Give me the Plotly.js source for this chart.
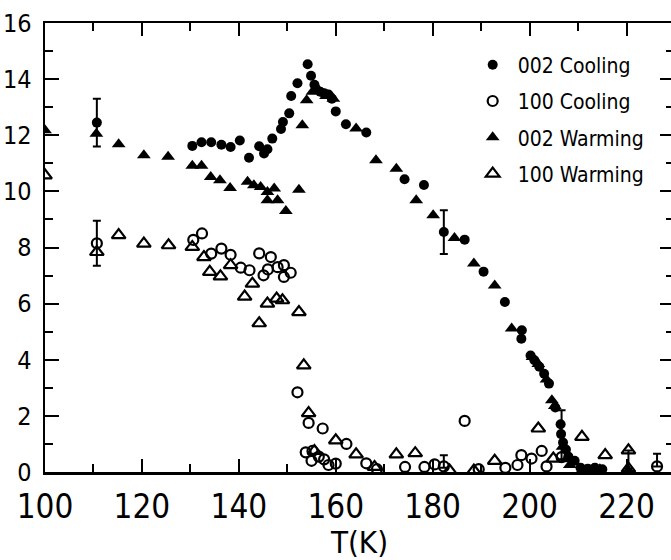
<!DOCTYPE html>
<html>
<head>
<meta charset="utf-8">
<script src="https://cdn.plot.ly/plotly-3.0.1.min.js"></script>
<style>
html,body{margin:0;padding:0;overflow:hidden;background:#fff;}
#chart{width:674px;height:560px;}
</style>
</head>
<body>
<div id="chart"></div>
<script>
// 002 Cooling (filled circles)
const c002X = [110.7,130.4,132.3,134.3,136.4,138.3,140.2,142.1,144.2,145.2,145.9,146.9,148.7,149.1,150.4,150.8,152.1,154.2,154.9,155.6,156.8,157.6,158.5,159.2,160.0,162.1,166.3,174.2,178.2,182.3,186.6,190.5,194.9,198.4,198.3,200.2,201.0,202.0,203.0,204.0,205.3,206.4,206.5,206.9,207.5,208.0,209.3,210.5,212.0,213.5,215.0];
const c002Y = [12.45,11.62,11.75,11.75,11.66,11.58,11.81,11.20,11.61,11.35,11.50,11.88,12.22,12.47,12.78,13.40,13.85,14.53,14.12,13.80,13.55,13.50,13.45,13.30,12.85,12.39,12.10,10.43,10.23,8.55,8.28,7.14,6.06,5.05,4.75,4.15,3.98,3.75,3.50,3.15,2.30,1.70,1.35,1.05,0.80,0.55,0.40,0.15,0.12,0.15,0.10];

// 100 Cooling (open circles)
const c100X = [110.7,130.6,132.4,134.3,136.4,138.3,140.4,142.2,144.2,145.1,146.0,146.6,148.0,149.3,149.3,150.7,152.1,154.4,157.3,153.8,155.2,155.0,156.5,157.6,158.5,160.0,162.2,166.3,168.5,174.3,178.3,180.4,182.3,186.6,189.5,195.0,197.5,198.3,200.4,202.5,203.5,206.6,226.3];
const c100Y = [8.15,8.27,8.50,7.78,7.96,7.74,7.28,7.19,7.79,7.01,7.22,7.66,7.30,7.37,6.95,7.10,2.84,1.75,1.55,0.70,0.75,0.40,0.55,0.45,0.25,0.30,1.00,0.31,0.10,0.18,0.18,0.27,0.20,1.82,0.10,0.15,0.25,0.60,0.48,0.75,0.20,0.53,0.20];

// 002 Warming (filled triangles)
const w002X = [100.0,110.6,115.2,120.4,125.4,130.4,132.3,134.2,136.1,138.2,141.8,143.1,144.5,145.9,147.3,145.9,148.0,149.7,152.4,153.1,154.0,155.2,156.5,158.0,159.5,164.2,168.3,172.5,176.6,180.1,184.5,188.5,192.8,196.3,200.6,201.8,203.5,204.6,205.2,206.8,207.6,208.3,211.0,213.0,214.5,220.4];
const w002Y = [12.18,12.05,11.68,11.29,11.23,10.91,10.91,10.51,10.40,10.12,10.34,10.22,10.16,9.98,10.10,9.68,9.68,9.30,10.06,12.36,13.25,13.55,13.60,13.40,13.30,12.24,11.11,10.81,9.68,9.15,8.34,7.43,6.65,5.11,4.10,3.85,3.30,2.56,2.35,0.90,0.45,0.25,0.10,0.10,0.10,0.05];

// 100 Warming (open triangles)
const w100X = [100.0,110.7,115.2,120.4,125.5,130.4,132.8,134.0,136.2,138.3,141.2,142.8,144.2,145.9,147.8,149.0,152.4,153.4,154.4,155.6,160.0,164.2,168.0,172.5,176.4,183.5,188.5,192.8,201.8,204.9,210.8,215.6,220.4,220.4];
const w100Y = [10.57,7.84,8.44,8.14,8.08,8.02,7.66,7.13,6.97,7.37,6.25,6.71,5.30,6.00,6.18,6.12,5.70,3.80,2.10,0.75,1.13,0.63,0.18,0.63,0.67,0.05,0.05,0.40,1.55,0.48,1.25,0.60,0.77,0.12];

// error bars
const errX = [110.7,110.7,182.3,206.6,182.3,226.3,220.4];
const errY = [12.45,8.15,8.55,1.35,0.15,0.20,0.12];
const errPlus = [0.85,0.80,0.78,0.85,0.45,0.45,0.65];
const errMinus = [0.85,0.80,0.78,0.90,0.00,0.00,0.00];

const legendNames = ['002 Cooling','100 Cooling','002 Warming','100 Warming'];

const FONT = '"Liberation Sans Narrow","DejaVu Sans Condensed","Arial Narrow",sans-serif';

const traces = [
  {x:c002X, y:c002Y, name:legendNames[0], legendgroup:'a', mode:'markers', type:'scatter',
   marker:{symbol:'circle', size:10, color:'#000'}},
  {x:c100X, y:c100Y, name:legendNames[1], legendgroup:'b', mode:'markers', type:'scatter',
   marker:{symbol:'circle-open', size:10, color:'#000', line:{width:2.2,color:'#000'}}},
  {x:w002X, y:w002Y, name:legendNames[2], legendgroup:'c', mode:'markers', type:'scatter',
   marker:{symbol:'triangle-up', size:12, color:'#000'}},
  {x:w100X, y:w100Y, name:legendNames[3], legendgroup:'d', mode:'markers', type:'scatter',
   marker:{symbol:'triangle-up-open', size:12, color:'#000', line:{width:2.2,color:'#000'}}},
  {x:errX, y:errY, mode:'markers', type:'scatter', showlegend:false, hoverinfo:'skip',
   marker:{size:1, opacity:0, color:'#000'},
   error_y:{type:'data', symmetric:false, array:errPlus, arrayminus:errMinus, color:'#000', thickness:2, width:4}}
];

const layout = {
  width:674, height:560,
  margin:{l:45, r:0, t:23, b:88},
  paper_bgcolor:'#fff', plot_bgcolor:'#fff',
  font:{family:FONT, color:'#000'},
  showlegend:true,
  legend:{x:0.672, y:0.952, xanchor:'left', yanchor:'top', bgcolor:'rgba(0,0,0,0)', borderwidth:0,
          itemwidth:40,
          font:{family:FONT, size:21, color:'#000'}, traceorder:'grouped', tracegroupgap:6},
  xaxis:{range:[100,229.8], tick0:100, dtick:20, ticks:'inside', ticklen:13, tickwidth:2, tickcolor:'#000',
         showline:true, linewidth:2.5, linecolor:'#000', mirror:'ticks', showgrid:false, zeroline:false,
         minor:{dtick:10, ticks:'inside', ticklen:8, tickwidth:2, tickcolor:'#000'},
         tickfont:{family:FONT, size:33, color:'#000'}, ticklabelstandoff:4,
         title:{text:'T(K)', font:{family:FONT, size:31, color:'#000'}, standoff:6}},
  yaxis:{range:[0,16], tick0:0, dtick:2, ticks:'inside', ticklen:14, tickwidth:2, tickcolor:'#000',
         showline:true, linewidth:2.5, linecolor:'#000', mirror:'ticks', showgrid:false, zeroline:false,
         minor:{dtick:1, ticks:'inside', ticklen:8, tickwidth:2, tickcolor:'#000'},
         tickfont:{family:FONT, size:25, color:'#000'}, ticklabelstandoff:6}
};

Plotly.newPlot('chart', traces, layout, {displayModeBar:false, staticPlot:true});
</script>
</body>
</html>
